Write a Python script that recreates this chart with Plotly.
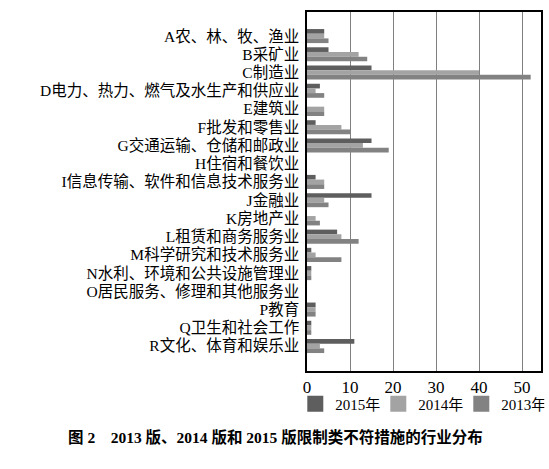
import plotly.graph_objects as go

categories = [
    "A农、林、牧、渔业", "B采矿业", "C制造业", "D电力、热力、燃气及水生产和供应业",
    "E建筑业", "F批发和零售业", "G交通运输、仓储和邮政业", "H住宿和餐饮业",
    "I信息传输、软件和信息技术服务业", "J金融业", "K房地产业", "L租赁和商务服务业",
    "M科学研究和技术服务业", "N水利、环境和公共设施管理业", "O居民服务、修理和其他服务业",
    "P教育", "Q卫生和社会工作", "R文化、体育和娱乐业",
]
v2015 = [4, 5, 15, 3, 0, 2, 15, 0, 2, 15, 0, 7, 1, 1, 0, 2, 1, 11]
v2014 = [4, 12, 40, 2, 4, 8, 13, 0, 4, 4, 2, 8, 2, 1, 0, 2, 1, 3]
v2013 = [5, 14, 52, 4, 4, 10, 19, 0, 4, 5, 3, 12, 8, 1, 0, 2, 1, 4]
series_names = ["2015年", "2014年", "2013年"]
colors = ["#5e5e5e", "#a3a3a3", "#828282"]
x_ticks = [0, 10, 20, 30, 40, 50]
caption = "图 2　2013 版、2014 版和 2015 版限制类不符措施的行业分布"

font_fam = "Liberation Serif, Noto Sans CJK SC, serif"

fig = go.Figure()
for name, vals, c in zip(series_names, [v2015, v2014, v2013], colors):
    fig.add_trace(go.Bar(y=categories, x=vals, name=name, orientation="h",
                         marker=dict(color=c, line=dict(width=0)), showlegend=False))
# legend entries with larger square swatches
for name, c in zip(series_names, colors):
    fig.add_trace(go.Scatter(x=[None], y=[None], mode="markers", name=name,
                             marker=dict(symbol="square", size=16, color=c),
                             showlegend=True))

fig.update_layout(
    width=549, height=469,
    margin=dict(l=307, r=6, t=12, b=98),
    barmode="group", bargap=0.23, bargroupgap=0,
    plot_bgcolor="white", paper_bgcolor="white",
    font=dict(family=font_fam, color="black", size=14),
    showlegend=True,
    legend=dict(orientation="h", x=-0.05, xanchor="left", y=-0.092, yanchor="middle",
                font=dict(size=15), traceorder="normal", itemwidth=30,
                entrywidth=38, entrywidthmode="pixels",
                bgcolor="rgba(0,0,0,0)"),
    xaxis=dict(range=[0, 54.4], tickmode="array", tickvals=x_ticks,
               showgrid=True, gridcolor="#808080", gridwidth=1,
               showline=True, linecolor="black", linewidth=1.5, mirror=True,
               ticks="", tickfont=dict(size=17), zeroline=False),
    yaxis=dict(autorange=False, range=[18.37, -1.32], type="category",
               tickmode="array", tickvals=categories, ticktext=categories,
               showline=True, linecolor="black", linewidth=1.5, mirror=True,
               ticks="", tickfont=dict(size=15.5), ticklabelstandoff=3),
)

fig.add_annotation(
    text="<b>" + caption + "</b>",
    xref="paper", yref="paper",
    x=(275 - 307) / (549 - 307 - 6), y=(469 - 98 - 437) / (469 - 12 - 98),
    xanchor="center", yanchor="middle", showarrow=False,
    font=dict(size=15.5, family=font_fam),
)

fig.write_html("out.html")
